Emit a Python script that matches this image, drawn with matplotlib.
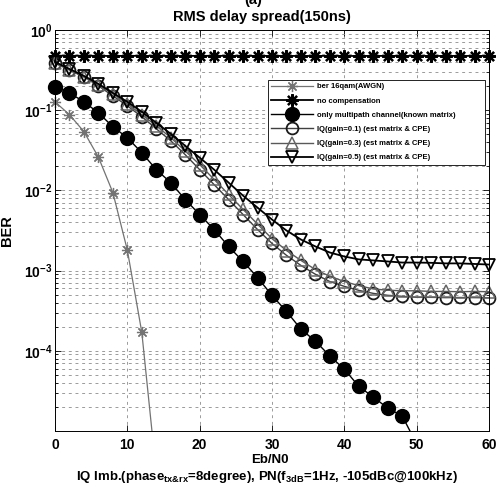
import matplotlib as mpl
mpl.use("Agg")
import matplotlib.pyplot as plt
import numpy as np
from matplotlib.patches import Rectangle
from matplotlib.ticker import LogLocator, NullFormatter

mpl.rcParams.update(
    {
        "font.family": ["Liberation Sans", "DejaVu Sans"],
        "font.weight": "bold",
        "mathtext.fontset": "custom",
        "mathtext.rm": "Liberation Sans:bold",
        "mathtext.it": "Liberation Sans:bold",
        "mathtext.bf": "Liberation Sans:bold",
        "mathtext.default": "rm",
    }
)

# Eb/N0 sweep (dB)
ebn0 = np.arange(0, 61, 2)
ebn0_awgn = np.arange(0, 15, 2)
ebn0_known = np.arange(0, 51, 2)

ber_awgn = [0.127, 0.088, 0.054, 0.026, 0.0094, 0.0018, 1.7e-4, 3e-6]

ber_nocomp = [0.48, 0.475, 0.478, 0.476, 0.474, 0.477, 0.475, 0.476, 0.474, 0.476,
              0.475, 0.477, 0.475, 0.474, 0.476, 0.475, 0.476, 0.474, 0.475, 0.476,
              0.475, 0.474, 0.476, 0.475, 0.475, 0.476, 0.474, 0.475, 0.476, 0.475,
              0.475]

ber_known = [0.1954, 0.1645, 0.127, 0.0928, 0.0622, 0.0454, 0.0295, 0.01815,
             0.0125, 0.00769, 0.0050, 0.00325, 0.0020, 0.0013, 8.2e-4, 4.9e-4,
             3.1e-4, 1.86e-4, 1.32e-4, 8.6e-5, 5.9e-5, 3.6e-5, 2.65e-5, 1.93e-5,
             1.54e-5, 6.9e-6]

ber_iq01 = [0.389, 0.318, 0.260, 0.201, 0.151, 0.1135, 0.0828, 0.0587, 0.0416,
            0.0279, 0.01815, 0.0118, 0.00769, 0.0050, 0.00325, 0.00218, 0.00155,
            0.00116, 9.0e-4, 7.3e-4, 6.36e-4, 5.67e-4, 5.2e-4, 4.92e-4, 4.78e-4,
            4.64e-4, 4.64e-4, 4.6e-4, 4.62e-4, 4.6e-4, 4.58e-4]

ber_iq03 = [0.389, 0.318, 0.26, 0.207, 0.16, 0.12, 0.088, 0.064, 0.0455, 0.031,
            0.021, 0.0137, 0.0089, 0.0058, 0.0038, 0.0025, 0.00178, 0.00134,
            0.00103, 8.5e-4, 7.3e-4, 6.5e-4, 5.9e-4, 5.7e-4, 5.6e-4, 5.6e-4,
            5.5e-4, 5.5e-4, 5.45e-4, 5.5e-4, 5.45e-4]

ber_iq05 = [0.400, 0.327, 0.268, 0.213, 0.1645, 0.127, 0.0955, 0.0697, 0.0508,
            0.0360, 0.0256, 0.01815, 0.0125, 0.0086, 0.0061, 0.00433, 0.00316,
            0.00244, 0.0020, 0.00168, 0.00150, 0.00138, 0.00134, 0.00130, 0.00126,
            0.00126, 0.00125, 0.00123, 0.00123, 0.00121, 0.00119]

labels = [
    "ber 16qam(AWGN)",
    "no compensation",
    "only multipath channel(known matrix)",
    "IQ(gain=0.1) (est matrix & CPE)",
    "IQ(gain=0.3) (est matrix & CPE)",
    "IQ(gain=0.5) (est matrix & CPE)",
]

fig = plt.figure(figsize=(4.98, 4.90), dpi=100)
ax = fig.add_axes([55 / 498, 1 - 431 / 490, 434 / 498, 401 / 490])

asterisk = (8, 2, 0)
lines = []
lines += ax.semilogy(ebn0_awgn, ber_awgn, color="0.45", lw=0.9, marker=asterisk,
                     ms=8, mew=0.9)
lines += ax.semilogy(ebn0, ber_nocomp, color="black", lw=1.3, marker=asterisk,
                     ms=9, mew=1.6)
lines += ax.semilogy(ebn0_known, ber_known, color="black", lw=1.0, marker="o",
                     ms=10, mfc="black", mec="black")
lines += ax.semilogy(ebn0, ber_iq01, color="0.25", lw=1.0, marker="o", ms=8.5,
                     mfc="none", mec="0.1", mew=1.3)
lines += ax.semilogy(ebn0, ber_iq03, color="0.35", lw=1.0, marker="^", ms=8.5,
                     mfc="none", mec="0.4", mew=1.1)
lines += ax.semilogy(ebn0, ber_iq05, color="black", lw=1.3, marker="v", ms=9,
                     mfc="none", mec="black", mew=1.3)

# let edge markers hang over the left/right spines, clip only top/bottom
clip_rect = Rectangle((-0.04, 0.0), 1.08, 1.0, transform=ax.transAxes)
for ln in lines:
    ln.set_clip_path(clip_rect)

ax.set_xlim(0, 60)
ax.set_ylim(1e-5, 1)
ax.set_xticks(np.arange(0, 61, 10))
ax.set_yticks([1e-4, 1e-3, 1e-2, 1e-1, 1e0])
ax.yaxis.set_minor_locator(LogLocator(base=10, subs=np.arange(2, 10), numticks=20))
ax.yaxis.set_minor_formatter(NullFormatter())

ax.tick_params(which="both", direction="in", top=True, right=True, width=0.6)
ax.tick_params(which="major", length=4)
ax.tick_params(which="minor", length=2)
ax.tick_params(axis="x", labelsize=10, pad=5)
ax.tick_params(axis="y", labelsize=10, pad=2)
for lab in ax.get_xticklabels() + ax.get_yticklabels():
    lab.set_fontweight("bold")

grid_kw = dict(color="0.55", linestyle=(0, (3.5, 4.5)), linewidth=0.6)
ax.grid(True, which="major", axis="both", **grid_kw)
ax.grid(True, which="minor", axis="y", **grid_kw)
for sp in ax.spines.values():
    sp.set_linewidth(0.7)

ax.set_ylabel("BER", fontsize=10.5, fontweight="bold")
ax.yaxis.set_label_coords(-0.094, 0.5)

leg = ax.legend(
    lines,
    labels,
    loc="upper left",
    bbox_to_anchor=(0.482, 0.672, 0.518, 0.214),
    mode="expand",
    fontsize=5.5,
    numpoints=1,
    handlelength=5.5,
    handletextpad=0.5,
    labelspacing=0.9,
    borderpad=0.45,
    fancybox=False,
    framealpha=1,
    edgecolor="black",
)
leg.get_frame().set_linewidth(0.6)

fig.text(253 / 498, 1 - 4 / 490, "(a)", ha="center", va="baseline",
         fontsize=10.5, fontweight="bold")
fig.text(262 / 498, 1 - 21 / 490, "RMS delay spread(150ns)", ha="center",
         va="baseline", fontsize=10.5, fontweight="bold")
fig.text(270 / 498, 1 - 463 / 490, "Eb/N0", ha="center", va="baseline",
         fontsize=9.5, fontweight="bold")
fig.text(267 / 498, 1 - 480 / 490,
         r"IQ Imb.(phase$_{tx&rx}$=8degree), PN(f$_{3dB}$=1Hz, -105dBc@100kHz)",
         ha="center", va="baseline", fontsize=9.5, fontweight="bold")

fig.savefig("out.png", dpi=100)
